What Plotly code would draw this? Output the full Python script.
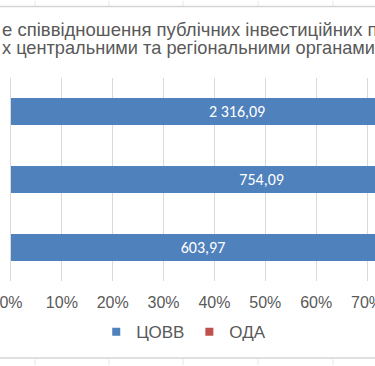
import plotly.graph_objects as go

# Data (bottom-to-top order of the horizontal bars)
categories = ["Категорія 3", "Категорія 2", "Категорія 1"]
covv_values = [603.97, 754.09, 2316.09]   # ЦОВВ
oda_values = [196.0, 11.0, 289.0]          # ОДА (hidden part, estimated)
series_names = ["ЦОВВ", "ОДА"]
x_ticks = [0, 10, 20, 30, 40, 50, 60, 70, 80, 90, 100]
title_line1 = "е співвідношення публічних інвестиційних п"
title_line2 = "х центральними та регіональними органами"

BLUE = "#4F81BD"
RED = "#C0504D"
GRAY = "#595959"
GRID = "#D9D9D9"

W, H = 375, 366
T, B = 77.5, 84.5
PH = H - T - B


def fmt(v):
    return f"{v:,.2f}".replace(",", " ").replace(".", ",")


def py(p):
    # pixel y -> paper y
    return (H - B - p) / PH


fig = go.Figure()
fig.add_trace(go.Bar(
    y=categories, x=covv_values, orientation="h", name=series_names[0],
    marker=dict(color=BLUE, line=dict(width=0)),
    text=[fmt(v) for v in covv_values], textposition="inside",
    insidetextanchor="middle", textangle=0,
    textfont=dict(color="white", size=16, family="Carlito, Lato, sans-serif"),
    showlegend=False, hoverinfo="skip"))
fig.add_trace(go.Bar(
    y=categories, x=oda_values, orientation="h", name=series_names[1],
    marker=dict(color=RED, line=dict(width=0)),
    showlegend=False, hoverinfo="skip"))

# legend entries with small square markers
for name, col in zip(series_names, [BLUE, RED]):
    fig.add_trace(go.Scatter(x=[None], y=[None], mode="markers", name=name,
                             marker=dict(symbol="square", size=8, color=col)))

fig.update_layout(
    width=W, height=H,
    margin=dict(l=0, r=0, t=T, b=B, autoexpand=False),
    paper_bgcolor="white", plot_bgcolor="white",
    barmode="stack", barnorm="percent", bargap=0.6,
    font=dict(family="Liberation Sans, Arial, sans-serif", color=GRAY),
    legend=dict(orientation="h", xanchor="center", x=0.49,
                yanchor="middle", y=py(333), traceorder="normal",
                font=dict(size=17, color=GRAY), itemwidth=30),
    xaxis=dict(range=[-2.16, 71.57], tickvals=x_ticks,
               ticktext=[f"{t}%" for t in x_ticks],
               showgrid=True, gridcolor=GRID, gridwidth=1,
               zeroline=False, showline=False, automargin=False,
               tickfont=dict(size=16, color=GRAY),
               ticklabelstandoff=10, ticklabeloverflow="allow",
               fixedrange=True),
    yaxis=dict(showticklabels=False, showgrid=False, zeroline=False,
               showline=False, fixedrange=True, automargin=False),
)

fig.add_annotation(text=title_line1, xref="paper", yref="paper",
                   x=0, y=py(29), xanchor="left", yanchor="middle",
                   showarrow=False, font=dict(size=18.5, color=GRAY))
fig.add_annotation(text=title_line2, xref="paper", yref="paper",
                   x=0, y=py(47), xanchor="left", yanchor="middle",
                   showarrow=False, font=dict(size=18.2, color=GRAY))

# surrounding page/table border lines
LINE = "#D4D4D4"
fig.add_shape(type="line", xref="paper", yref="paper", x0=0, x1=1,
              y0=py(5.7), y1=py(5.7), line=dict(color=LINE, width=1.5))
fig.add_shape(type="line", xref="paper", yref="paper", x0=0, x1=1,
              y0=py(359), y1=py(359), line=dict(color=LINE, width=1.5))
for xp in [35, 109, 183, 258, 333]:
    fig.add_shape(type="line", xref="paper", yref="paper",
                  x0=xp / W, x1=xp / W, y0=py(0), y1=py(5),
                  line=dict(color="#E6E6E6", width=1))
    fig.add_shape(type="line", xref="paper", yref="paper",
                  x0=xp / W, x1=xp / W, y0=py(360), y1=py(366),
                  line=dict(color="#E6E6E6", width=1))

fig.write_html(
    "out.html",
    config={"displayModeBar": False, "staticPlot": True},
    post_script="document.body.style.margin='0';document.body.style.overflow='hidden';",
)
